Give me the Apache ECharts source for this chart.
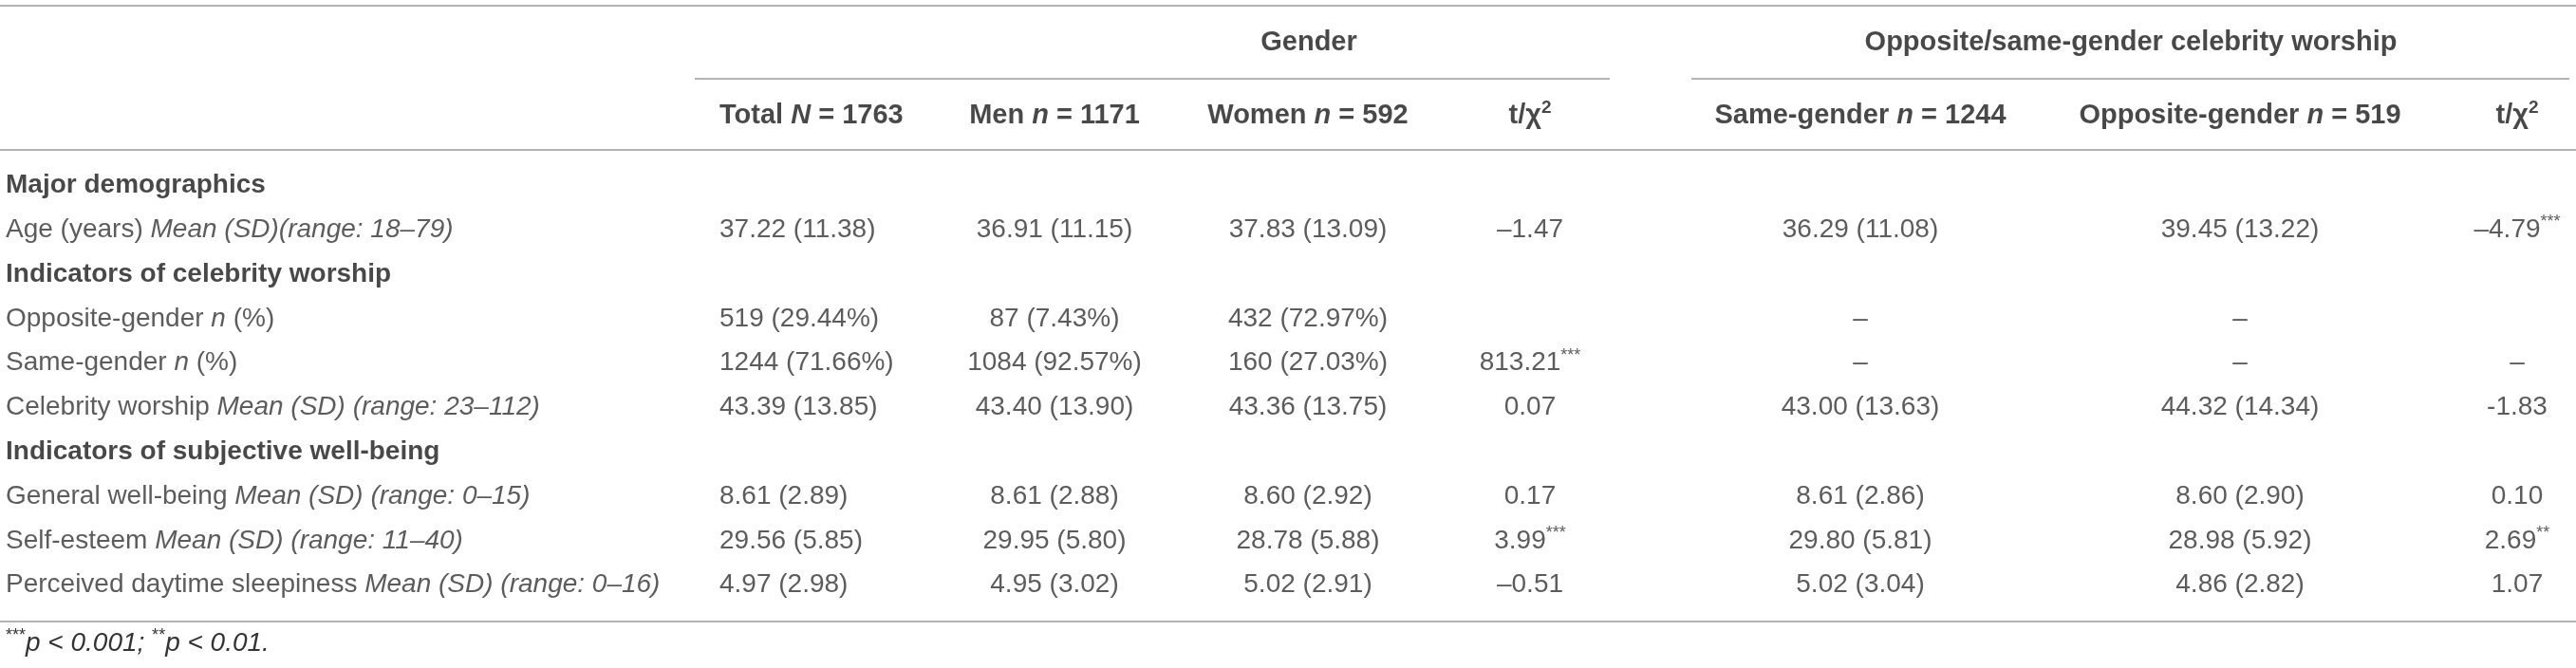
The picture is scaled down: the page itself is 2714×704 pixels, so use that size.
<!DOCTYPE html>
<html>
<head>
<meta charset="utf-8">
<title>Table</title>
<script src="https://cdn.jsdelivr.net/npm/echarts@6/dist/echarts.min.js"></script>
<style>
html,body{margin:0;padding:0;background:#fff;}
#table{width:2714px;height:704px;}
</style>
</head>
<body>
<div id="table"></div>
<script>
// header texts
var groupNames = ['Gender', 'Opposite/same-gender celebrity worship'];
var colTitles = ['Total', 'Men', 'Women', 't/χ', 'Same-gender', 'Opposite-gender', 't/χ'];
var colSymbols = ['N', 'n', 'n', '', 'n', 'n', ''];
var colSizes = [1763, 1171, 592, null, 1244, 519, null];

// row texts
var sectionTitles = ['Major demographics', 'Indicators of celebrity worship', 'Indicators of subjective well-being'];
var rowNames = ['Major demographics', 'Age (years)', 'Indicators of celebrity worship', 'Opposite-gender', 'Same-gender',
    'Celebrity worship', 'Indicators of subjective well-being', 'General well-being', 'Self-esteem', 'Perceived daytime sleepiness'];
var rowMeasures = ['', 'Mean (SD)(range: 18–79)', '', 'n', 'n', 'Mean (SD) (range: 23–112)', '',
    'Mean (SD) (range: 0–15)', 'Mean (SD) (range: 11–40)', 'Mean (SD) (range: 0–16)'];
var rowUnits = ['', '', '', ' (%)', ' (%)', '', '', '', '', ''];

// cell values, one array per column
var totalVals = ['', '37.22 (11.38)', '', '519 (29.44%)', '1244 (71.66%)', '43.39 (13.85)', '', '8.61 (2.89)', '29.56 (5.85)', '4.97 (2.98)'];
var menVals = ['', '36.91 (11.15)', '', '87 (7.43%)', '1084 (92.57%)', '43.40 (13.90)', '', '8.61 (2.88)', '29.95 (5.80)', '4.95 (3.02)'];
var womenVals = ['', '37.83 (13.09)', '', '432 (72.97%)', '160 (27.03%)', '43.36 (13.75)', '', '8.60 (2.92)', '28.78 (5.88)', '5.02 (2.91)'];
var genderStat = ['', '–1.47', '', '', '813.21***', '0.07', '', '0.17', '3.99***', '–0.51'];
var sameVals = ['', '36.29 (11.08)', '', '–', '–', '43.00 (13.63)', '', '8.61 (2.86)', '29.80 (5.81)', '5.02 (3.04)'];
var oppVals = ['', '39.45 (13.22)', '', '–', '–', '44.32 (14.34)', '', '8.60 (2.90)', '28.98 (5.92)', '4.86 (2.82)'];
var worshipStat = ['', '–4.79***', '', '', '–', '-1.83', '', '0.10', '2.69**', '1.07'];

// footnote
var noteStars = ['***', '**'];
var noteLevels = ['0.001', '0.01'];

// layout (pixels)
var W = 2714, H = 704;
var labelX = 6;
var colX = [758, 1111, 1378, 1612, 1960, 2360, 2652];
var colAlign = ['left', 'center', 'center', 'center', 'center', 'center', 'center'];
var groupX = [1379, 2245];
var ruleColor = '#b3b3b3';

var FONT = 'Liberation Sans, Arial, sans-serif';
var richStyles = {
    h: {fontFamily: FONT, fontWeight: 'bold', fontSize: 28, lineHeight: 34, color: '#1a1a1a'},
    i: {fontFamily: FONT, fontWeight: 'normal', fontStyle: 'italic', fontSize: 28, lineHeight: 34, color: '#333'},
    sup: {fontFamily: FONT, fontWeight: 'normal', fontSize: 18, lineHeight: 18, verticalAlign: 'top', color: '#333'},
    b: {fontFamily: FONT, fontWeight: 'bold', fontSize: 29, lineHeight: 34, color: '#1a1a1a'},
    bi: {fontFamily: FONT, fontWeight: 'bold', fontStyle: 'italic', fontSize: 29, lineHeight: 34, color: '#1a1a1a'},
    bsup: {fontFamily: FONT, fontWeight: 'bold', fontSize: 19, lineHeight: 18, verticalAlign: 'top', color: '#1a1a1a'}
};

// trailing asterisks -> superscript
function starText(v) {
    return v.replace(/(\*+)$/, '{sup|$1}');
}

function rowLabel(r) {
    if (sectionTitles.indexOf(rowNames[r]) >= 0) {
        return '{h|' + rowNames[r] + '}';
    }
    return rowNames[r] + ' {i|' + rowMeasures[r] + '}' + rowUnits[r];
}

function headLabel(c) {
    if (colSizes[c] === null) {
        return '{b|' + colTitles[c] + '}{bsup|2}';
    }
    return '{b|' + colTitles[c] + ' }{bi|' + colSymbols[c] + '}{b| = ' + colSizes[c] + '}';
}

function cell(x, y, text, align) {
    return {
        value: [x, y],
        label: {formatter: text, align: align}
    };
}

// build cells
var columns = [totalVals, menVals, womenVals, genderStat, sameVals, oppVals, worshipStat];
var rowIds = [];
var bodyCells = [];
for (var r = 0; r < rowNames.length; r++) {
    rowIds.push('r' + r);
    bodyCells.push(cell(labelX, r, rowLabel(r), 'left'));
    for (var c = 0; c < columns.length; c++) {
        if (columns[c][r] !== '') {
            bodyCells.push(cell(colX[c], r, starText(columns[c][r]), colAlign[c]));
        }
    }
}
var headCells = [];
for (var g = 0; g < groupNames.length; g++) {
    headCells.push(cell(groupX[g], 0, '{b|' + groupNames[g] + '}', 'center'));
}
for (var k = 0; k < colTitles.length; k++) {
    headCells.push(cell(colX[k], 1, headLabel(k), colAlign[k]));
}

var noteText = '';
for (var n = 0; n < noteStars.length; n++) {
    noteText += '{sup|' + noteStars[n] + '}{i|p < ' + noteLevels[n] + (n < noteStars.length - 1 ? '; ' : '.') + '}';
}

function hAxis(idx) {
    return {type: 'value', gridIndex: idx, min: 0, max: W, show: false};
}
function vAxis(idx, data) {
    return {type: 'category', gridIndex: idx, data: data, inverse: true, show: false};
}
function cellSeries(idx, data) {
    return {
        type: 'scatter',
        xAxisIndex: idx,
        yAxisIndex: idx,
        symbolSize: 1,
        itemStyle: {color: 'rgba(0,0,0,0)'},
        silent: true,
        label: {
            show: true,
            position: 'inside',
            verticalAlign: 'middle',
            fontFamily: FONT,
            fontSize: 28,
            lineHeight: 34,
            color: '#333',
            rich: richStyles
        },
        data: data
    };
}

function rule(x1, x2, y) {
    return {type: 'line', shape: {x1: x1, y1: y, x2: x2, y2: y}, style: {stroke: ruleColor, lineWidth: 2}, silent: true};
}

var option = {
    backgroundColor: '#fff',
    animation: false,
    title: {
        text: noteText,
        left: labelX,
        top: 661,
        padding: 0,
        textStyle: {fontFamily: FONT, fontWeight: 'normal', fontSize: 28, lineHeight: 34, color: '#333', rich: richStyles}
    },
    grid: [
        {left: 0, right: 0, top: 6.75, height: 153},
        {left: 0, right: 0, top: 172.1, height: 468}
    ],
    xAxis: [hAxis(0), hAxis(1)],
    yAxis: [vAxis(0, ['groups', 'columns']), vAxis(1, rowIds)],
    series: [cellSeries(0, headCells), cellSeries(1, bodyCells)],
    graphic: [
        rule(0, W, 6),
        rule(732, 1696, 83),
        rule(1782, 2707, 83),
        rule(0, W, 158),
        rule(0, W, 655)
    ]
};

var tableChart = echarts.init(document.getElementById('table'));
tableChart.setOption(option);
</script>
</body>
</html>
